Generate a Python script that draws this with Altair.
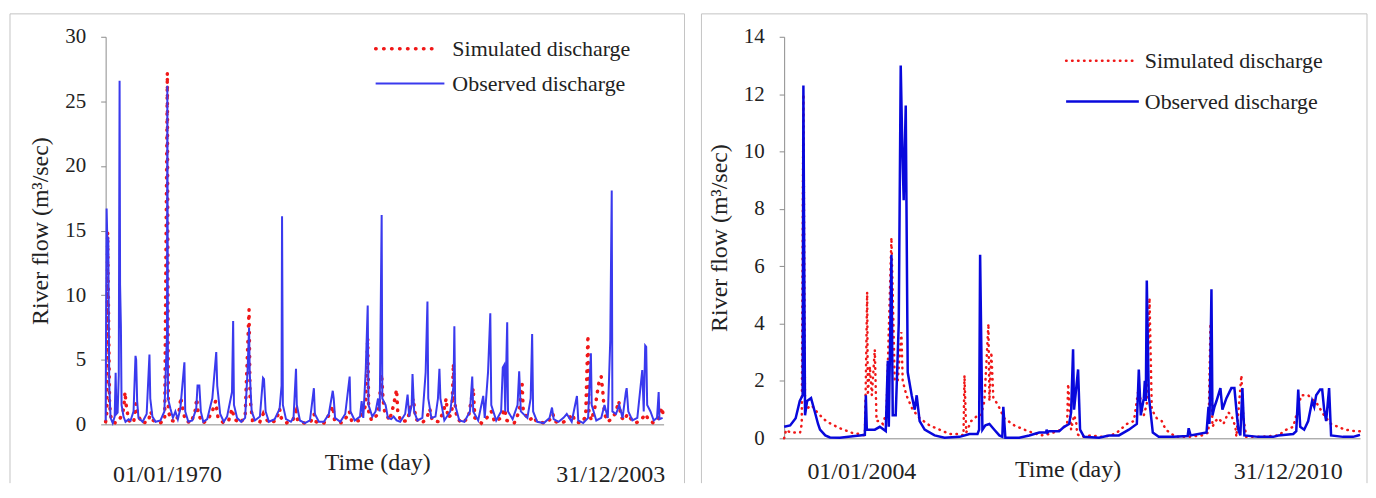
import altair as alt
import pandas as pd

FONT = "Liberation Serif"

# ---------------- Left panel: 1970 - 2003 ----------------
L_OBS = [
    (1970.00, 0.3), (1970.06, 16.7), (1970.10, 14.4), (1970.16, 14.4), (1970.22, 3.0),
    (1970.30, 0.5), (1970.43, 0.1), (1970.55, 0.6), (1970.61, 4.0), (1970.66, 0.8),
    (1970.73, 0.9), (1970.80, 3.8), (1970.85, 26.6), (1970.88, 10.8), (1970.93, 7.6),
    (1970.97, 1.5), (1971.09, 0.6), (1971.21, 0.2), (1971.40, 0.4), (1971.52, 0.3),
    (1971.70, 1.0), (1971.82, 5.3), (1971.86, 5.0), (1971.92, 1.8), (1972.00, 0.5),
    (1972.25, 0.2), (1972.50, 0.8), (1972.67, 5.4), (1972.72, 2.0), (1972.85, 0.6),
    (1973.04, 0.2), (1973.34, 0.3), (1973.58, 1.0), (1973.74, 7.0), (1973.76, 26.2),
    (1973.80, 2.0), (1973.95, 1.2), (1974.10, 0.5), (1974.25, 1.0), (1974.40, 0.4),
    (1974.55, 1.2), (1974.80, 4.8), (1974.85, 1.0), (1975.04, 0.2), (1975.28, 0.3),
    (1975.52, 1.2), (1975.60, 3.0), (1975.71, 3.0), (1975.80, 1.0), (1975.95, 0.2),
    (1976.19, 0.4), (1976.40, 1.5), (1976.50, 2.0), (1976.74, 5.6), (1976.80, 3.0),
    (1976.98, 0.8), (1977.20, 0.2), (1977.40, 0.6), (1977.70, 2.5), (1977.77, 8.0),
    (1977.82, 1.5), (1978.01, 0.5), (1978.26, 0.2), (1978.50, 0.5), (1978.65, 4.2),
    (1978.74, 7.5), (1978.78, 4.0), (1978.90, 1.0), (1979.10, 0.3), (1979.40, 0.6),
    (1979.59, 3.6), (1979.65, 3.5), (1979.75, 1.0), (1979.95, 0.2), (1980.30, 0.4),
    (1980.60, 1.2), (1980.72, 3.0), (1980.75, 16.1), (1980.80, 1.5), (1980.99, 0.4),
    (1981.29, 0.2), (1981.45, 0.5), (1981.60, 4.3), (1981.65, 1.5), (1981.84, 0.3),
    (1982.14, 0.1), (1982.45, 0.3), (1982.69, 2.8), (1982.75, 0.8), (1982.99, 0.2),
    (1983.30, 0.2), (1983.60, 0.8), (1983.84, 2.6), (1983.90, 2.0), (1983.98, 0.5),
    (1984.30, 0.2), (1984.60, 0.8), (1984.87, 3.7), (1984.92, 1.0), (1985.18, 0.3),
    (1985.50, 0.6), (1985.60, 1.8), (1985.70, 0.5), (1985.85, 4.2), (1985.97, 9.2),
    (1986.02, 1.5), (1986.25, 0.6), (1986.45, 1.0), (1986.60, 2.0), (1986.70, 1.0),
    (1986.82, 16.2), (1986.86, 2.0), (1987.06, 1.5), (1987.20, 0.5), (1987.40, 0.4),
    (1987.55, 0.6), (1987.73, 0.3), (1987.95, 0.2), (1988.25, 0.8), (1988.40, 2.3),
    (1988.50, 0.6), (1988.65, 1.5), (1988.70, 3.9), (1988.80, 1.0), (1989.00, 0.3),
    (1989.30, 0.5), (1989.50, 4.0), (1989.61, 9.5), (1989.66, 2.0), (1989.85, 0.5),
    (1990.10, 0.6), (1990.25, 2.0), (1990.34, 4.3), (1990.40, 2.0), (1990.64, 0.3),
    (1991.00, 1.0), (1991.20, 3.0), (1991.25, 7.6), (1991.30, 1.5), (1991.55, 0.3),
    (1991.86, 0.2), (1992.20, 1.0), (1992.34, 3.7), (1992.40, 1.0), (1992.70, 0.3),
    (1993.01, 2.2), (1993.10, 0.5), (1993.30, 4.0), (1993.44, 8.6), (1993.50, 1.5),
    (1993.80, 0.3), (1994.10, 1.0), (1994.20, 4.4), (1994.29, 4.6), (1994.35, 1.0),
    (1994.47, 7.9), (1994.52, 1.0), (1994.80, 0.4), (1995.10, 1.5), (1995.20, 4.1),
    (1995.30, 1.0), (1995.70, 0.5), (1995.90, 2.0), (1995.99, 7.0), (1996.05, 1.0),
    (1996.30, 0.2), (1996.70, 0.1), (1997.05, 0.5), (1997.20, 1.3), (1997.30, 0.4),
    (1997.60, 0.2), (1997.90, 0.5), (1998.10, 0.8), (1998.40, 0.2), (1998.72, 2.2),
    (1998.80, 0.3), (1999.10, 0.1), (1999.40, 0.5), (1999.57, 5.5), (1999.62, 1.5),
    (1999.90, 0.3), (2000.20, 0.5), (2000.40, 1.5), (2000.60, 0.5), (2000.75, 6.5),
    (2000.84, 18.1), (2000.88, 1.0), (2001.10, 0.8), (2001.30, 1.5), (2001.50, 0.5),
    (2001.70, 2.5), (2001.75, 2.8), (2001.85, 1.0), (2002.10, 0.3), (2002.40, 0.5),
    (2002.70, 4.2), (2002.79, 1.0), (2002.88, 6.1), (2002.94, 6.0), (2003.00, 1.5),
    (2003.20, 1.0), (2003.40, 0.3), (2003.60, 0.5), (2003.70, 2.5), (2003.75, 0.4),
    (2003.94, 0.5),
]

L_SIM = [
    (1970.00, 0.2), (1970.08, 1.0), (1970.12, 14.9), (1970.18, 8.0), (1970.24, 1.5),
    (1970.35, 0.3), (1970.60, 0.1), (1970.90, 0.5), (1971.10, 1.2), (1971.18, 2.5),
    (1971.25, 1.5), (1971.40, 0.3), (1971.70, 0.1), (1971.85, 1.6), (1971.95, 0.8),
    (1972.20, 0.1), (1972.60, 0.2), (1972.75, 1.0), (1972.90, 0.3), (1973.30, 0.1),
    (1973.60, 0.3), (1973.76, 27.2), (1973.82, 1.0), (1974.00, 0.3), (1974.30, 0.2),
    (1974.50, 1.2), (1974.58, 2.1), (1974.65, 1.5), (1974.85, 0.3), (1975.20, 0.1),
    (1975.45, 1.0), (1975.55, 2.0), (1975.65, 0.8), (1975.90, 0.1), (1976.20, 0.3),
    (1976.50, 1.0), (1976.70, 1.8), (1976.85, 0.5), (1977.20, 0.1), (1977.50, 0.3),
    (1977.70, 1.2), (1977.85, 0.4), (1978.20, 0.1), (1978.50, 0.6), (1978.74, 8.9),
    (1978.80, 2.0), (1978.95, 0.3), (1979.40, 0.2), (1979.60, 0.8), (1979.70, 0.5),
    (1980.00, 0.1), (1980.40, 0.3), (1980.60, 1.2), (1980.70, 0.5), (1981.00, 0.1),
    (1981.40, 0.3), (1981.60, 1.0), (1981.70, 0.3), (1982.10, 0.1), (1982.50, 0.2),
    (1982.70, 0.8), (1982.80, 0.2), (1983.30, 0.1), (1983.65, 0.8), (1983.85, 1.4),
    (1983.95, 0.3), (1984.40, 0.1), (1984.70, 0.6), (1984.85, 1.0), (1985.00, 0.2),
    (1985.50, 0.3), (1985.85, 1.5), (1985.97, 6.7), (1986.03, 1.0), (1986.20, 0.3),
    (1986.60, 0.8), (1986.75, 2.8), (1986.82, 3.9), (1986.90, 2.0), (1987.00, 1.0),
    (1987.30, 0.3), (1987.55, 1.5), (1987.73, 2.7), (1987.80, 1.0), (1988.00, 0.2),
    (1988.40, 0.3), (1988.60, 1.5), (1988.75, 2.0), (1988.90, 0.4), (1989.30, 0.1),
    (1989.60, 0.6), (1989.75, 1.2), (1989.90, 0.3), (1990.30, 0.2), (1990.60, 1.0),
    (1990.75, 2.0), (1990.85, 0.5), (1991.10, 0.8), (1991.19, 4.7), (1991.25, 2.0),
    (1991.40, 0.5), (1991.70, 0.1), (1992.10, 0.5), (1992.40, 2.8), (1992.50, 0.5),
    (1992.90, 0.1), (1993.30, 0.6), (1993.50, 1.0), (1993.70, 0.2), (1994.10, 0.5),
    (1994.30, 1.2), (1994.45, 0.3), (1994.90, 0.1), (1995.20, 1.0), (1995.38, 3.1),
    (1995.45, 1.0), (1995.80, 0.3), (1996.10, 0.6), (1996.25, 0.2), (1996.80, 0.1),
    (1997.10, 0.4), (1997.25, 0.8), (1997.40, 0.2), (1997.80, 0.1), (1998.20, 0.4),
    (1998.45, 0.8), (1998.60, 0.2), (1999.00, 0.1), (1999.25, 0.6), (1999.39, 6.9),
    (1999.45, 1.0), (1999.60, 0.3), (1999.85, 1.5), (2000.00, 2.8), (2000.10, 3.5),
    (2000.20, 3.7), (2000.30, 2.5), (2000.40, 0.8), (2000.60, 0.2), (2000.90, 0.5),
    (2001.10, 1.0), (2001.27, 1.8), (2001.40, 0.6), (2001.60, 0.3), (2001.80, 0.8),
    (2001.95, 0.5), (2002.30, 0.1), (2002.60, 0.3), (2002.90, 0.8), (2003.10, 0.3),
    (2003.40, 0.1), (2003.70, 0.5), (2003.90, 1.3), (2003.98, 0.7),
]

# ---------------- Right panel: 2004 - 2010 ----------------
R_OBS = [
    (2004.000, 0.40), (2004.073, 0.45), (2004.140, 0.7), (2004.190, 1.3), (2004.225, 1.5),
    (2004.234, 12.3), (2004.246, 5.0), (2004.254, 0.8), (2004.279, 1.3), (2004.327, 1.4),
    (2004.375, 0.9), (2004.412, 0.5), (2004.436, 0.3), (2004.500, 0.1), (2004.557, 0.03),
    (2004.678, 0.02), (2004.860, 0.08), (2004.920, 0.1), (2004.981, 0.12), (2004.993, 1.5),
    (2005.005, 0.3), (2005.102, 0.3), (2005.163, 0.4), (2005.235, 0.25), (2005.260, 2.7),
    (2005.272, 0.4), (2005.304, 6.4), (2005.320, 0.8), (2005.356, 0.8), (2005.393, 4.0),
    (2005.417, 13.0), (2005.438, 9.9), (2005.453, 8.3), (2005.478, 11.6), (2005.502, 2.3),
    (2005.550, 1.5), (2005.587, 1.0), (2005.611, 1.5), (2005.647, 0.6), (2005.708, 0.3),
    (2005.829, 0.1), (2005.950, 0.02), (2006.132, 0.05), (2006.253, 0.15), (2006.350, 0.15),
    (2006.370, 0.3), (2006.382, 6.4), (2006.410, 0.3), (2006.446, 0.45), (2006.495, 0.5),
    (2006.555, 0.3), (2006.616, 0.1), (2006.652, 0.05), (2006.664, 1.1), (2006.689, 0.02),
    (2006.858, 0.02), (2006.979, 0.1), (2007.100, 0.2), (2007.185, 0.2), (2007.190, 0.3),
    (2007.200, 0.2), (2007.222, 0.25), (2007.343, 0.25), (2007.403, 0.4), (2007.464, 0.5),
    (2007.488, 0.9), (2007.512, 3.1), (2007.524, 1.0), (2007.573, 2.4), (2007.597, 0.3),
    (2007.645, 0.05), (2007.827, 0.02), (2007.948, 0.1), (2008.069, 0.1), (2008.190, 0.3),
    (2008.287, 0.5), (2008.311, 2.4), (2008.335, 0.8), (2008.372, 1.4), (2008.384, 2.0),
    (2008.396, 1.3), (2008.408, 5.5), (2008.432, 1.5), (2008.481, 0.2), (2008.553, 0.05),
    (2008.735, 0.05), (2008.905, 0.08), (2008.917, 0.35), (2008.941, 0.1), (2009.037, 0.15),
    (2009.134, 0.2), (2009.158, 1.1), (2009.170, 0.5), (2009.194, 5.2), (2009.206, 0.8),
    (2009.231, 1.1), (2009.255, 1.3), (2009.303, 1.75), (2009.327, 1.0), (2009.376, 1.4),
    (2009.436, 1.75), (2009.473, 1.75), (2009.497, 1.0), (2009.521, 0.3), (2009.545, 0.1),
    (2009.570, 1.75), (2009.594, 0.1), (2009.765, 0.05), (2009.946, 0.05), (2010.006, 0.1),
    (2010.188, 0.15), (2010.225, 0.25), (2010.249, 1.7), (2010.273, 0.4), (2010.321, 0.3),
    (2010.370, 0.6), (2010.418, 1.3), (2010.443, 1.1), (2010.467, 1.5), (2010.515, 1.7),
    (2010.540, 1.7), (2010.564, 1.0), (2010.588, 0.6), (2010.624, 1.75), (2010.648, 0.1),
    (2010.794, 0.05), (2010.915, 0.05), (2010.975, 0.1), (2011.000, 0.12),
]

R_SIM = [
    (2004.000, 0.0), (2004.024, 0.3), (2004.073, 0.2), (2004.194, 0.2), (2004.214, 0.5),
    (2004.234, 12.0), (2004.254, 1.0), (2004.335, 1.15), (2004.412, 0.87), (2004.517, 0.58),
    (2004.678, 0.35), (2004.836, 0.18), (2004.920, 0.15), (2004.981, 0.1), (2004.993, 2.0),
    (2005.009, 5.1), (2005.017, 1.5), (2005.042, 2.5), (2005.066, 1.5), (2005.102, 3.1),
    (2005.123, 0.6), (2005.163, 0.6), (2005.199, 0.5), (2005.244, 0.9), (2005.304, 7.0),
    (2005.344, 2.0), (2005.381, 2.0), (2005.425, 3.7), (2005.441, 2.0), (2005.486, 1.5),
    (2005.562, 1.0), (2005.647, 0.7), (2005.768, 0.45), (2005.889, 0.3), (2006.010, 0.15),
    (2006.132, 0.15), (2006.180, 0.1), (2006.192, 2.2), (2006.213, 0.2), (2006.273, 0.6),
    (2006.333, 0.75), (2006.394, 0.8), (2006.434, 1.3), (2006.483, 4.0), (2006.495, 1.3),
    (2006.519, 3.0), (2006.543, 1.4), (2006.592, 1.2), (2006.676, 0.7), (2006.798, 0.45),
    (2006.919, 0.3), (2007.016, 0.2), (2007.125, 0.1), (2007.222, 0.15), (2007.367, 0.3),
    (2007.440, 0.5), (2007.452, 1.9), (2007.488, 0.3), (2007.524, 0.8), (2007.549, 0.6),
    (2007.561, 0.15), (2007.609, 0.05), (2007.730, 0.1), (2007.851, 0.05), (2007.972, 0.1),
    (2008.045, 0.2), (2008.166, 0.5), (2008.251, 0.6), (2008.311, 1.8), (2008.348, 1.0),
    (2008.372, 0.8), (2008.408, 1.2), (2008.441, 4.9), (2008.469, 1.0), (2008.529, 0.7),
    (2008.590, 0.6), (2008.638, 0.3), (2008.759, 0.05), (2008.917, 0.05), (2009.074, 0.1),
    (2009.158, 0.2), (2009.182, 4.0), (2009.206, 0.4), (2009.243, 0.6), (2009.279, 0.7),
    (2009.340, 0.5), (2009.400, 0.9), (2009.436, 0.8), (2009.485, 0.4), (2009.497, 0.05),
    (2009.558, 2.2), (2009.582, 0.7), (2009.618, 0.05), (2009.801, 0.05), (2010.006, 0.1),
    (2010.104, 0.3), (2010.188, 0.4), (2010.225, 0.8), (2010.285, 1.5), (2010.370, 1.5),
    (2010.406, 1.4), (2010.479, 1.2), (2010.563, 0.8), (2010.648, 0.5), (2010.733, 0.4),
    (2010.818, 0.3), (2010.939, 0.25), (2011.000, 0.25),
]

SERIES = ["Simulated discharge", "Observed discharge"]
Y_TITLE = "River flow (m³/sec)"
X_TITLE = "Time (day)"
L_DATES = ["01/01/1970", "31/12/2003"]
R_DATES = ["01/01/2004", "31/12/2010"]

RED = "#f01818"
GRAY = "#8c8c8c"
FRAME = "#c4c4c4"


def df(pairs):
    return pd.DataFrame(pairs, columns=["t", "v"])


def panel(obs, sim, xdom, ymax, ystep, w, h, blue, bw, dot_w, dot_dash,
          leg, frame, texts, date_labels):
    xs = alt.Scale(domain=xdom, nice=False, zero=False)
    ys = alt.Scale(domain=[0, ymax], nice=False)
    xax = alt.Axis(labels=False, ticks=False, title=None, grid=False,
                   domainColor=GRAY, domainWidth=1)
    yax = alt.Axis(values=list(range(0, ymax + 1, ystep)), grid=False,
                   tickSize=5, tickColor=GRAY, domainColor=GRAY,
                   labelFont=FONT, labelFontSize=21, labelColor="#222",
                   labelPadding=15, title=Y_TITLE, titleFont=FONT,
                   titleFontSize=24, titleFontWeight="normal",
                   titleColor="#222", titlePadding=12)
    sim_line = alt.Chart(df(sim)).mark_line(
        color=RED, strokeWidth=dot_w, strokeDash=dot_dash, strokeCap="round"
    ).encode(x=alt.X("t:Q", scale=xs, axis=xax), y=alt.Y("v:Q", scale=ys, axis=yax))
    obs_line = alt.Chart(df(obs)).mark_line(
        color=blue, strokeWidth=bw
    ).encode(x=alt.X("t:Q", scale=xs, axis=xax), y=alt.Y("v:Q", scale=ys, axis=yax))

    one = pd.DataFrame({"k": [0]})
    fx1, fy1, fx2, fy2 = frame
    fr_left = alt.Chart(one).mark_rule(color=FRAME, strokeWidth=1).encode(
        x=alt.value(fx1), y=alt.value(fy1), y2=alt.value(fy2))
    fr_top = alt.Chart(one).mark_rule(color=FRAME, strokeWidth=1).encode(
        x=alt.value(fx1), x2=alt.value(fx2), y=alt.value(fy1))
    fr_right = alt.Chart(one).mark_rule(color=FRAME, strokeWidth=1).encode(
        x=alt.value(fx2), y=alt.value(fy1), y2=alt.value(fy2))

    lx1, lx2r, lx2b, ly1, ly2, ltx = leg
    leg_sim = alt.Chart(one).mark_rule(
        color=RED, strokeWidth=dot_w, strokeDash=dot_dash, strokeCap="round"
    ).encode(x=alt.value(lx1), x2=alt.value(lx2r), y=alt.value(ly1))
    leg_obs = alt.Chart(one).mark_rule(color=blue, strokeWidth=bw).encode(
        x=alt.value(lx1), x2=alt.value(lx2b), y=alt.value(ly2))
    leg_t1 = alt.Chart(pd.DataFrame({"s": [SERIES[0]]})).mark_text(
        align="left", baseline="middle", font=FONT, fontSize=22, color="#222"
    ).encode(x=alt.value(ltx), y=alt.value(ly1), text="s:N")
    leg_t2 = alt.Chart(pd.DataFrame({"s": [SERIES[1]]})).mark_text(
        align="left", baseline="middle", font=FONT, fontSize=22, color="#222"
    ).encode(x=alt.value(ltx), y=alt.value(ly2), text="s:N")

    (d1x, d1y), (tx, ty), (d2x, d2y) = texts
    tlayers = []
    for label, (px, py) in zip([date_labels[0], X_TITLE, date_labels[1]],
                                [(d1x, d1y), (tx, ty), (d2x, d2y)]):
        tlayers.append(
            alt.Chart(pd.DataFrame({"s": [label]})).mark_text(
                align="center", baseline="middle", font=FONT, fontSize=24,
                color="#222"
            ).encode(x=alt.value(px), y=alt.value(py), text="s:N")
        )

    return alt.layer(
        fr_left, fr_top, fr_right, sim_line, obs_line,
        leg_sim, leg_obs, leg_t1, leg_t2, *tlayers
    ).properties(width=w, height=h)


left = panel(
    L_OBS, L_SIM, [1970, 2004], 30, 5, 560, 389,
    "#3a3aee", 2, 3.5, [0.5, 7.5],
    (271, 335, 340, 12, 47, 348),
    (-96, -23, 581, 448),
    ((62, 440), (273, 428), (507, 440)),
    L_DATES,
)
right = panel(
    R_OBS, R_SIM, [2004, 2011], 14, 2, 578, 403,
    "#0808dc", 2.5, 2.5, [0.5, 5.5],
    (283, 351, 356, 24, 65, 362),
    (-83, -23, 585, 448),
    ((78, 437), (285, 435), (506, 437)),
    R_DATES,
)

chart = alt.hconcat(left, right, spacing=15).properties(
    padding={"left": 1, "top": 4, "right": 0, "bottom": 0}
).configure_view(stroke=None)

chart.save("out.html", embed_options={"renderer": "svg", "actions": False})
